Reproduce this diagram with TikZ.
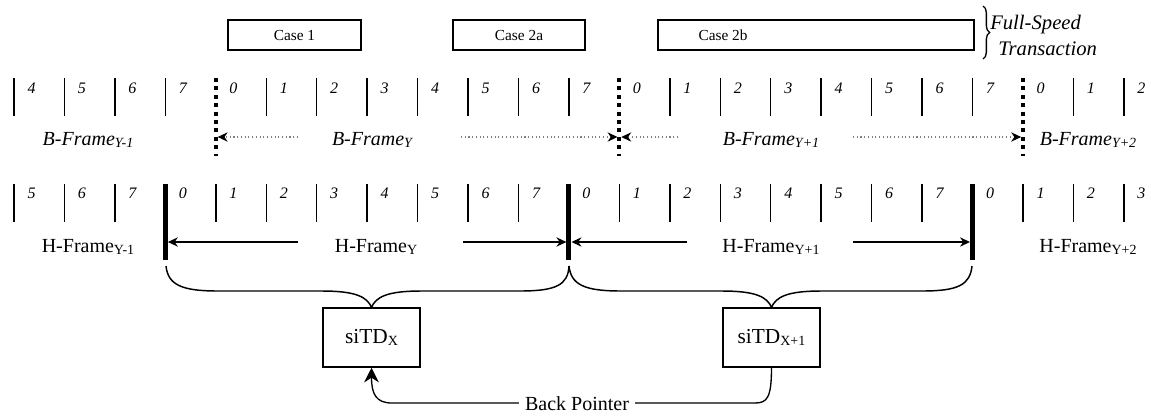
\documentclass[tikz,border=0pt]{standalone}
\usepackage{fontspec}
\setmainfont{Liberation Serif}
\usetikzlibrary{arrows.meta,decorations.pathreplacing}
\newcommand\lowsub[1]{\raisebox{-1.5pt}{\fontsize{10.5}{12}\selectfont #1}}
\tikzset{
  big/.style={font=\fontsize{15}{18}\selectfont, inner sep=0pt},
  bigit/.style={font=\fontsize{15}{18}\selectfont\itshape, inner sep=0pt},
  digit/.style={font=\fontsize{12}{14}\selectfont\itshape, inner sep=0pt},
  tickline/.style={line width=1.1pt},
  hbar/.style={line width=3.75pt},
  bbar/.style={line width=3pt, dash pattern=on 3pt off 3.3pt},
  casebox/.style={draw, line width=1.1pt, minimum height=22.5pt, inner sep=0pt, font=\fontsize{11.5}{13}\selectfont},
  casetext/.style={inner sep=0pt, font=\fontsize{11.5}{13}\selectfont},
  tdbox/.style={draw, line width=1.1pt, minimum width=72.75pt, minimum height=44.25pt, inner sep=0pt, font=\fontsize{16}{18}\selectfont},
  harrow/.style={line width=1pt, -{Stealth[length=7.5pt,width=7pt]}, shorten >=1.9pt},
  barrow/.style={draw=gray, line width=0.8pt, dotted, -{Stealth[length=7.5pt,width=7pt,color=black]}, shorten >=1.4pt},
  bracepath/.style={line width=1.1pt},
}
\begin{document}
\begin{tikzpicture}[x=0.75pt,y=-0.75pt]
\useasboundingbox (0,0) rectangle (1151,415);

% ---- ticks and digits ----
\foreach \i in {0,...,22}{
  \pgfmathsetmacro\xx{14+50.45*\i}
  \pgfmathtruncatemacro\db{mod(\i+4,8)}
  \pgfmathtruncatemacro\dh{mod(\i+5,8)}
  \pgfmathtruncatemacro\mb{mod(\i,8)}
  \coordinate (bt\i) at (\xx,78);
  \coordinate (ba\i) at (\xx,137);
  \coordinate (ht\i) at (\xx,184);
  \coordinate (ha\i) at (\xx,242);
  \ifnum\mb=4
    \coordinate (bb\i) at (\xx,156);
    \draw[bbar] (bt\i) -- (bb\i);
  \else
    \coordinate (bb\i) at (\xx,116);
    \draw[tickline] (bt\i) -- (bb\i);
  \fi
  \ifnum\mb=3
    \coordinate (hb\i) at (\xx,260);
    \draw[hbar] (ht\i) -- (hb\i);
  \else
    \coordinate (hb\i) at (\xx,222);
    \draw[tickline] (ht\i) -- (hb\i);
  \fi
  \node[digit] (bd\i) at (\xx+17.5,88) {\db};
  \node[digit] (hd\i) at (\xx+17.5,193) {\dh};
}

% ---- case boxes ----
\node[casebox, minimum width=99.75pt] (c1) at (294.5,35) {Case 1};
\node[casebox, minimum width=99pt] (c2a) at (519,35) {Case 2a};
\node[casebox, minimum width=237pt] (c2b) at (816,35) {};
\node[casetext] (c2bt) at (723,35) {Case 2b};
\draw[decorate, decoration={brace, amplitude=5pt}, line width=1pt] (983,6) -- (983,59);
\node[bigit, font=\fontsize{15.5}{19.5}\selectfont\itshape, align=left, anchor=west] (fs) at (990,35) {Full-Speed\\\hspace*{6pt}Transaction};

% ---- B-frame labels and arrows ----
\node[bigit, anchor=base] (bfm1) at (88,145) {B-Frame\lowsub{Y-1}};
\node[bigit, anchor=base] (bf0) at (372,145) {B-Frame\lowsub{Y}};
\node[bigit, anchor=base] (bf1) at (771,145) {B-Frame\lowsub{Y+1}};
\node[bigit, anchor=base] (bf2) at (1088,145) {B-Frame\lowsub{Y+2}};
\coordinate (b0l) at (298,137);
\coordinate (b0r) at (461,137);
\coordinate (b1l) at (678,137);
\coordinate (b1r) at (853,137);
\draw[barrow] (b0l) -- (ba4);
\draw[barrow] (b0r) -- (ba12);
\draw[barrow] (b1l) -- (ba12);
\draw[barrow] (b1r) -- (ba20);

% ---- H-frame labels and arrows ----
\node[big, anchor=base] (hfm1) at (88,252) {H-Frame\lowsub{Y-1}};
\node[big, anchor=base] (hf0) at (376,252) {H-Frame\lowsub{Y}};
\node[big, anchor=base] (hf1) at (771,252) {H-Frame\lowsub{Y+1}};
\node[big, anchor=base] (hf2) at (1088,252) {H-Frame\lowsub{Y+2}};
\coordinate (h0l) at (298,242);
\coordinate (h0r) at (463,242);
\coordinate (h1l) at (687,242);
\coordinate (h1r) at (853,242);
\draw[harrow] (h0l) -- (ha3);
\draw[harrow] (h0r) -- (ha11);
\draw[harrow] (h1l) -- (ha11);
\draw[harrow] (h1r) -- (ha19);

% ---- siTD boxes ----
\node[tdbox] (tdx) at (371.5,337.5) {siTD\lowsub{X}};
\node[tdbox] (tdx1) at (771.5,337.5) {siTD\lowsub{X+1}};

% ---- braces ----
\coordinate (br0) at (166,266);
\coordinate (br1) at (569,266);
\coordinate (br2) at (972,266);
\draw[bracepath] (br0) .. controls (168,285) and (182,291) .. (218,291) -- (322,291)
  .. controls (356,291) and (367,297) .. (tdx.north)
  .. controls (376,297) and (387,291) .. (421,291) -- (520,291)
  .. controls (556,291) and (568,285) .. (br1);
\draw[bracepath] (br1) .. controls (571,285) and (585,291) .. (621,291) -- (722,291)
  .. controls (756,291) and (767,297) .. (tdx1.north)
  .. controls (776,297) and (787,291) .. (821,291) -- (922,291)
  .. controls (958,291) and (970,285) .. (br2);

% ---- back pointer ----
\node[big, inner xsep=4.5pt] (bp) at (577,404) {Back Pointer};
\draw[line width=1pt] (tdx1.south) .. controls (771.5,398) and (767,403) .. (755,403) -- (bp.east |- 0,403);
\draw[line width=1pt, -{Stealth[length=11pt,width=11pt]}] (bp.west |- 0,403) -- (392,403)
  .. controls (376,403) and (371.5,394) .. (tdx.south);
\end{tikzpicture}
\end{document}
